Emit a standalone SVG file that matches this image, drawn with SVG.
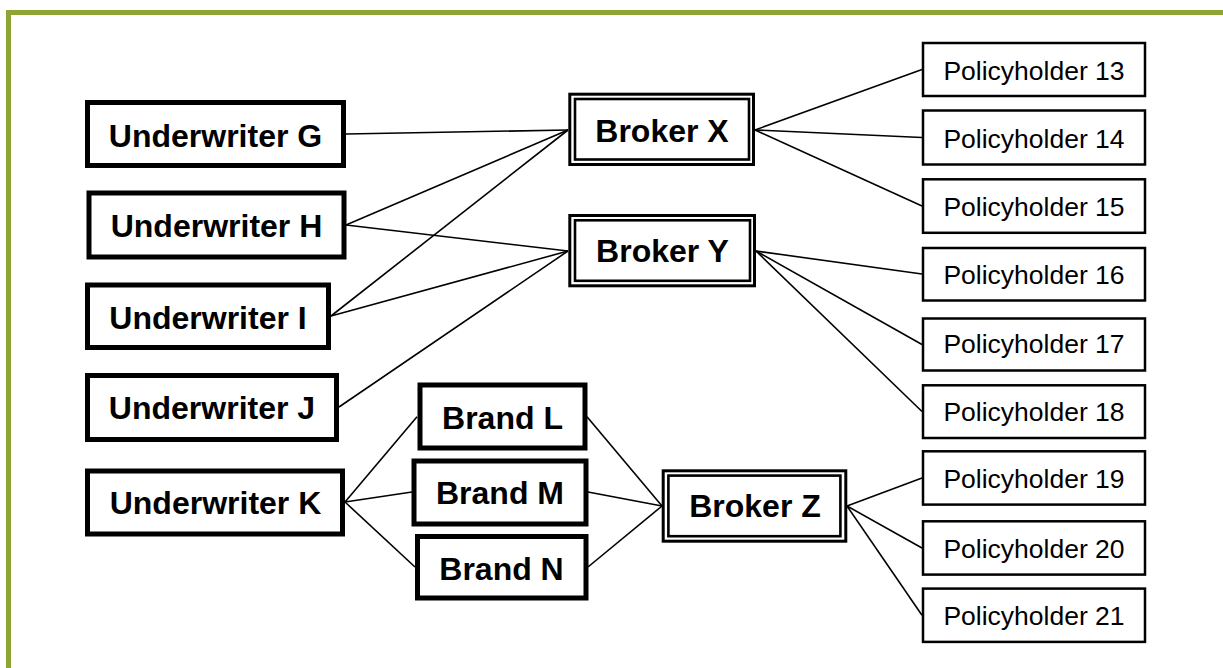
<svg xmlns="http://www.w3.org/2000/svg" width="1223" height="668" viewBox="0 0 1223 668">
<style>
.frame{fill:none;stroke:#8FA533;stroke-width:5}
.uw{fill:#fff;stroke:#000;stroke-width:5}
.br{fill:#fff;stroke:#000;stroke-width:3}
.brin{fill:none;stroke:#000;stroke-width:2.6}
.ph{fill:#fff;stroke:#000;stroke-width:2.5}
.bt{font-family:"Liberation Sans",Arial,sans-serif;font-weight:bold;font-size:32px;text-anchor:middle;fill:#000}
.pt{font-family:"Liberation Sans",Arial,sans-serif;font-size:26.5px;text-anchor:middle;fill:#000}
.cn line{stroke:#000;stroke-width:1.6}
</style>
<rect width="1223" height="668" fill="#fff"/>
<path class="frame" d="M8.5,668 V12.5 H1223"/>
<g id="connectors" class="cn">
<line x1="346" y1="134" x2="568" y2="130"/>
<line x1="346" y1="225" x2="568" y2="130"/>
<line x1="346" y1="225" x2="568" y2="251"/>
<line x1="331" y1="316" x2="568" y2="130"/>
<line x1="331" y1="316" x2="568" y2="251"/>
<line x1="339" y1="407" x2="568" y2="251"/>
<line x1="755" y1="130" x2="922" y2="69.5"/>
<line x1="755" y1="130" x2="922" y2="137.5"/>
<line x1="755" y1="130" x2="922" y2="206"/>
<line x1="756" y1="251" x2="922" y2="274"/>
<line x1="756" y1="251" x2="922" y2="344.5"/>
<line x1="756" y1="251" x2="922" y2="411.5"/>
<line x1="345" y1="502" x2="417" y2="416.7"/>
<line x1="345" y1="502" x2="412" y2="492"/>
<line x1="345" y1="502" x2="415" y2="567"/>
<line x1="587" y1="416.7" x2="662" y2="506"/>
<line x1="588" y1="492" x2="662" y2="506"/>
<line x1="588" y1="567" x2="662" y2="506"/>
<line x1="847" y1="506" x2="922" y2="478"/>
<line x1="847" y1="506" x2="922" y2="548"/>
<line x1="847" y1="506" x2="922" y2="615.3"/>
</g>
<g id="uw-g"><rect class="uw" x="87.5" y="102.5" width="256" height="63"/><text class="bt" x="215.5" y="146.5">Underwriter G</text></g>
<g id="uw-h"><rect class="uw" x="89" y="193" width="255" height="64"/><text class="bt" x="216.5" y="236.5">Underwriter H</text></g>
<g id="uw-i"><rect class="uw" x="87.5" y="285" width="241" height="62.5"/><text class="bt" x="208" y="328.5">Underwriter I</text></g>
<g id="uw-j"><rect class="uw" x="87.5" y="375.5" width="249" height="64"/><text class="bt" x="212" y="419">Underwriter J</text></g>
<g id="uw-k"><rect class="uw" x="87.5" y="471" width="255" height="63"/><text class="bt" x="215.5" y="514">Underwriter K</text></g>
<g id="brand-l"><rect class="uw" x="420" y="385" width="165" height="63"/><text class="bt" x="502.5" y="429">Brand L</text></g>
<g id="brand-m"><rect class="uw" x="414" y="461" width="172" height="63"/><text class="bt" x="500" y="504">Brand M</text></g>
<g id="brand-n"><rect class="uw" x="417.5" y="536.5" width="168.5" height="61.5"/><text class="bt" x="501.5" y="580">Brand N</text></g>
<g id="broker-x"><rect class="br" x="569.8" y="94.2" width="183.7" height="70.3"/><rect class="brin" x="575" y="99" width="174" height="60.5"/><text class="bt" x="662" y="141.5">Broker X</text></g>
<g id="broker-y"><rect class="br" x="569.8" y="215.5" width="184.7" height="70.3"/><rect class="brin" x="575" y="220.3" width="175" height="60.5"/><text class="bt" x="662.5" y="261.7">Broker Y</text></g>
<g id="broker-z"><rect class="br" x="663.2" y="470.8" width="182.6" height="70.4"/><rect class="brin" x="668.4" y="475.6" width="172" height="60.6"/><text class="bt" x="755" y="517.3">Broker Z</text></g>
<g id="ph-13"><rect class="ph" x="923" y="43" width="222" height="53"/><text class="pt" x="1034" y="80">Policyholder 13</text></g>
<g id="ph-14"><rect class="ph" x="923" y="110.5" width="222" height="54"/><text class="pt" x="1034" y="147.5">Policyholder 14</text></g>
<g id="ph-15"><rect class="ph" x="923" y="179.3" width="222" height="53.5"/><text class="pt" x="1034" y="215.5">Policyholder 15</text></g>
<g id="ph-16"><rect class="ph" x="923" y="248" width="222" height="52.5"/><text class="pt" x="1034" y="283.5">Policyholder 16</text></g>
<g id="ph-17"><rect class="ph" x="923" y="318.5" width="222" height="52"/><text class="pt" x="1034" y="353">Policyholder 17</text></g>
<g id="ph-18"><rect class="ph" x="923" y="385.3" width="222" height="52.7"/><text class="pt" x="1034" y="420.5">Policyholder 18</text></g>
<g id="ph-19"><rect class="ph" x="923" y="451.3" width="222" height="53.3"/><text class="pt" x="1034" y="487.5">Policyholder 19</text></g>
<g id="ph-20"><rect class="ph" x="923" y="521.3" width="222" height="53.3"/><text class="pt" x="1034" y="557.5">Policyholder 20</text></g>
<g id="ph-21"><rect class="ph" x="923" y="588.6" width="222" height="53.3"/><text class="pt" x="1034" y="625">Policyholder 21</text></g>
</svg>
